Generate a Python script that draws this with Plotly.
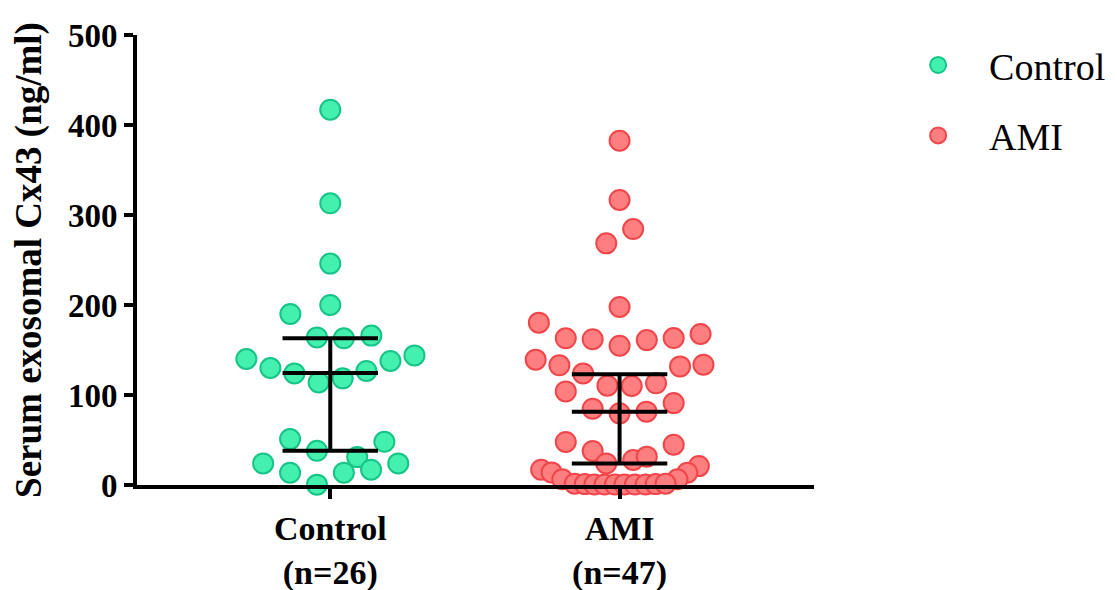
import plotly.graph_objects as go

# ---------------- data ----------------
categories = ["Control", "AMI"]
category_labels = ["<b>Control</b><br><b>(n=26)</b>", "<b>AMI</b><br><b>(n=47)</b>"]

control_values = [417, 313, 246, 200, 190, 164, 163, 166,
                  140, 130, 124, 114, 118.5, 126.7, 137.8, 144,
                  51, 38, 48, 31, 24, 24, 13.7, 13.7, 17, 0.4]
control_offsets = [0, 0, 0, 0, -0.138, -0.046, 0.047, 0.142,
                   -0.29, -0.207, -0.124, -0.040, 0.043, 0.125, 0.208, 0.291,
                   -0.139, -0.046, 0.187, 0.093, -0.232, 0.235, -0.139, 0.047, 0.141, -0.046]

ami_values = [382.6, 316.7, 284.4, 268.5, 197.8,
              180.4, 163, 162, 154.8, 161, 163.3, 167.8,
              139.3, 133, 124, 110.4, 110, 113, 131.8, 133.7,
              104, 84.8, 79.6, 81.5, 91,
              47.8, 37.8, 24, 27.8, 31.5, 44.8,
              17, 14, 21, 13.7, 6.3, 6.3,
              1.5, 1, 0.5, 0.5, 0.5, 0.5, 0.5, 0.5, 1, 1.5]
ami_offsets = [0, 0, 0.047, -0.046, 0,
               -0.279, -0.186, -0.093, 0, 0.094, 0.187, 0.280,
               -0.290, -0.208, -0.126, -0.042, 0.042, 0.126, 0.209, 0.290,
               -0.186, -0.093, 0, 0.093, 0.187,
               -0.186, -0.093, -0.046, 0.047, 0.094, 0.187,
               -0.271, -0.235, 0.274, 0.234, 0.200, -0.198,
               -0.155, -0.120, -0.087, -0.052, -0.016, 0.017, 0.053, 0.090, 0.125, 0.159]

medians = [124.4, 81.5]
q1s = [38, 24]
q3s = [163, 123]

y_ticks = [0, 100, 200, 300, 400, 500]

# ---------------- styles ----------------
fills = ["#44F0AE", "#FF7F81"]
edges = ["#17C487", "#F0464A"]
serif = "Liberation Serif, Times New Roman, serif"
half_w = 0.165

fig = go.Figure()

series = [(control_values, control_offsets), (ami_values, ami_offsets)]
for i, (vals, offs) in enumerate(series):
    fig.add_trace(go.Scatter(
        x=[i + o for o in offs], y=vals, mode="markers", name=categories[i],
        legendgroup=categories[i],
        marker=dict(size=20, color=fills[i], line=dict(color=edges[i], width=2)),
        cliponaxis=False,
    ))

for i in range(len(categories)):
    xs = [i, i, None,
          i - half_w, i + half_w, None,
          i - half_w, i + half_w, None,
          i - half_w, i + half_w]
    ys = [q1s[i], q3s[i], None,
          medians[i], medians[i], None,
          q1s[i], q1s[i], None,
          q3s[i], q3s[i]]
    fig.add_trace(go.Scatter(x=xs, y=ys, mode="lines", showlegend=False,
                             line=dict(color="black", width=4), cliponaxis=False,
                             hoverinfo="skip"))

fig.update_layout(
    width=1109, height=582,
    margin=dict(l=129, r=303, t=27, b=105, autoexpand=False),
    plot_bgcolor="white", paper_bgcolor="white",
    font=dict(family=serif, color="black"),
    showlegend=True,
    legend=dict(x=1.108, y=1.0027, xanchor="left", yanchor="top",
                font=dict(family=serif, size=38, color="black"),
                traceorder="grouped", tracegroupgap=18,
                itemwidth=92, bgcolor="rgba(0,0,0,0)"),
)

fig.update_xaxes(
    range=[-0.668, 1.672], tickmode="array", tickvals=[0, 1], ticktext=category_labels,
    showline=True, linecolor="black", linewidth=4,
    ticks="outside", ticklen=10, tickwidth=4, tickcolor="black",
    tickfont=dict(family=serif, size=34, color="black"),
    showgrid=False, zeroline=False, automargin=False,
)
fig.update_yaxes(
    range=[0, 500], tickmode="array", tickvals=y_ticks,
    showline=True, linecolor="black", linewidth=4,
    ticks="outside", ticklen=9, tickwidth=4, tickcolor="black",
    tickfont=dict(family=serif, size=33, color="black", weight="bold"),
    title=dict(text="<b>Serum exosomal Cx43 (ng/ml)</b>", standoff=18,
               font=dict(family=serif, size=37, color="black")),
    showgrid=False, zeroline=False, automargin=False,
)

fig.write_html("out.html")
